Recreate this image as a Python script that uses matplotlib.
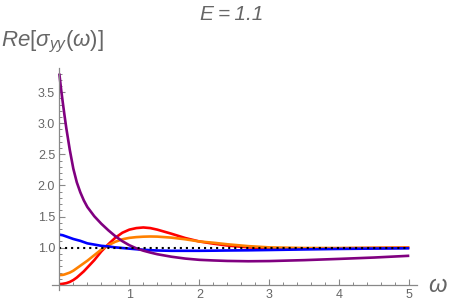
import matplotlib
matplotlib.use("Agg")
import matplotlib.pyplot as plt
import numpy as np
from matplotlib.ticker import MultipleLocator, FixedLocator

omega = [0.0, 0.025, 0.05, 0.075, 0.1, 0.15, 0.2, 0.25, 0.3, 0.35, 0.4, 0.5, 0.6, 0.7, 0.8,
         0.9, 1.0, 1.1, 1.2, 1.3, 1.4, 1.6, 1.8, 2.0, 2.2, 2.4, 2.7, 3.0, 3.5, 4.0, 4.5, 5.0]

purple = [3.80, 3.55, 3.33, 3.12, 2.92, 2.57, 2.27, 2.05, 1.89, 1.76, 1.655, 1.505, 1.385,
          1.28, 1.185, 1.105, 1.04, 0.99, 0.952, 0.922, 0.895, 0.855, 0.825, 0.805, 0.795,
          0.787, 0.782, 0.785, 0.80, 0.82, 0.842, 0.87]
blue = [1.21, 1.205, 1.20, 1.19, 1.18, 1.16, 1.14, 1.125, 1.11, 1.09, 1.07, 1.05, 1.03, 1.02,
        1.005, 0.995, 0.985, 0.975, 0.967, 0.96, 0.955, 0.95, 0.95, 0.95, 0.952, 0.955,
        0.958, 0.963, 0.972, 0.98, 0.986, 0.99]
red = [0.415, 0.416, 0.42, 0.425, 0.43, 0.45, 0.48, 0.52, 0.57, 0.62, 0.68, 0.80, 0.94, 1.055,
       1.16, 1.24, 1.29, 1.315, 1.325, 1.315, 1.29, 1.225, 1.155, 1.10, 1.065, 1.035, 1.005,
       0.99, 0.985, 0.99, 0.995, 1.0]
orange = [0.56, 0.561, 0.563, 0.57, 0.58, 0.60, 0.63, 0.67, 0.71, 0.75, 0.79, 0.88, 0.97, 1.04,
          1.095, 1.135, 1.158, 1.17, 1.177, 1.18, 1.178, 1.162, 1.135, 1.10, 1.08, 1.055,
          1.025, 1.005, 0.995, 0.995, 0.998, 1.0]

title_text = "E\u2009=\u20091.1"
ylabel_text = r"$Re[\sigma_{yy}(\omega)]$"
xlabel_text = r"$\omega$"
yticks_major = [1.0, 1.5, 2.0, 2.5, 3.0, 3.5]
xticks_major = [1, 2, 3, 4, 5]

plt.rcParams['font.family'] = ['Liberation Sans', 'DejaVu Sans']
plt.rcParams['mathtext.fontset'] = 'custom'
plt.rcParams['mathtext.it'] = 'Liberation Sans:italic'
plt.rcParams['mathtext.rm'] = 'Liberation Sans'

fig = plt.figure(figsize=(4.5, 3.06), dpi=100)
ax = fig.add_axes([0.1147, 0.0523, 0.812, 0.7258])

lw = 1.9
ax.plot(omega, red, color='#FF0000', lw=lw, solid_capstyle='butt')
ax.plot(omega, orange, color='#FF8000', lw=lw, solid_capstyle='butt')
ax.plot(omega, blue, color='#0000FF', lw=lw, solid_capstyle='butt')
ax.plot(omega, purple, color='#800080', lw=lw, solid_capstyle='butt')
ax.plot([0, 5], [1, 1], color='black', lw=1.5, linestyle=(0, (1, 1.9)))

ax.set_xlim(-0.11, 5.11)
ax.set_ylim(0.32, 3.89)

for s in ['top', 'right']:
    ax.spines[s].set_visible(False)
ax.spines['left'].set_position(('data', 0))
ax.spines['bottom'].set_position(('data', 0.4))
axis_col = '#888888'
for s in ['left', 'bottom']:
    ax.spines[s].set_color(axis_col)
    ax.spines[s].set_linewidth(0.9)

ax.xaxis.set_major_locator(FixedLocator(xticks_major))
ax.xaxis.set_minor_locator(MultipleLocator(0.2))
ax.yaxis.set_major_locator(FixedLocator(yticks_major))
ax.yaxis.set_minor_locator(FixedLocator(np.arange(0.5, 3.85, 0.1)))
ax.set_xticklabels([str(t) for t in xticks_major])
ax.set_yticklabels([f"{t:.1f}" for t in yticks_major])
ax.tick_params(which='major', direction='in', length=4.5, width=0.8, color=axis_col,
               labelsize=9, labelcolor='#666666', pad=3)
ax.tick_params(which='minor', direction='in', length=2.5, width=0.7, color=axis_col)

fig.text(232/450, 1 - 20/306, title_text, ha='center', va='baseline', fontsize=15,
         style='italic', color='#666666')
fig.text(1/450, 1 - 46.7/306, ylabel_text, ha='left', va='baseline', fontsize=16,
         color='#666666')
fig.text(428/450, 1 - 292/306, xlabel_text, ha='left', va='baseline', fontsize=17,
         color='#666666')

fig.savefig("out.png", dpi=100)
